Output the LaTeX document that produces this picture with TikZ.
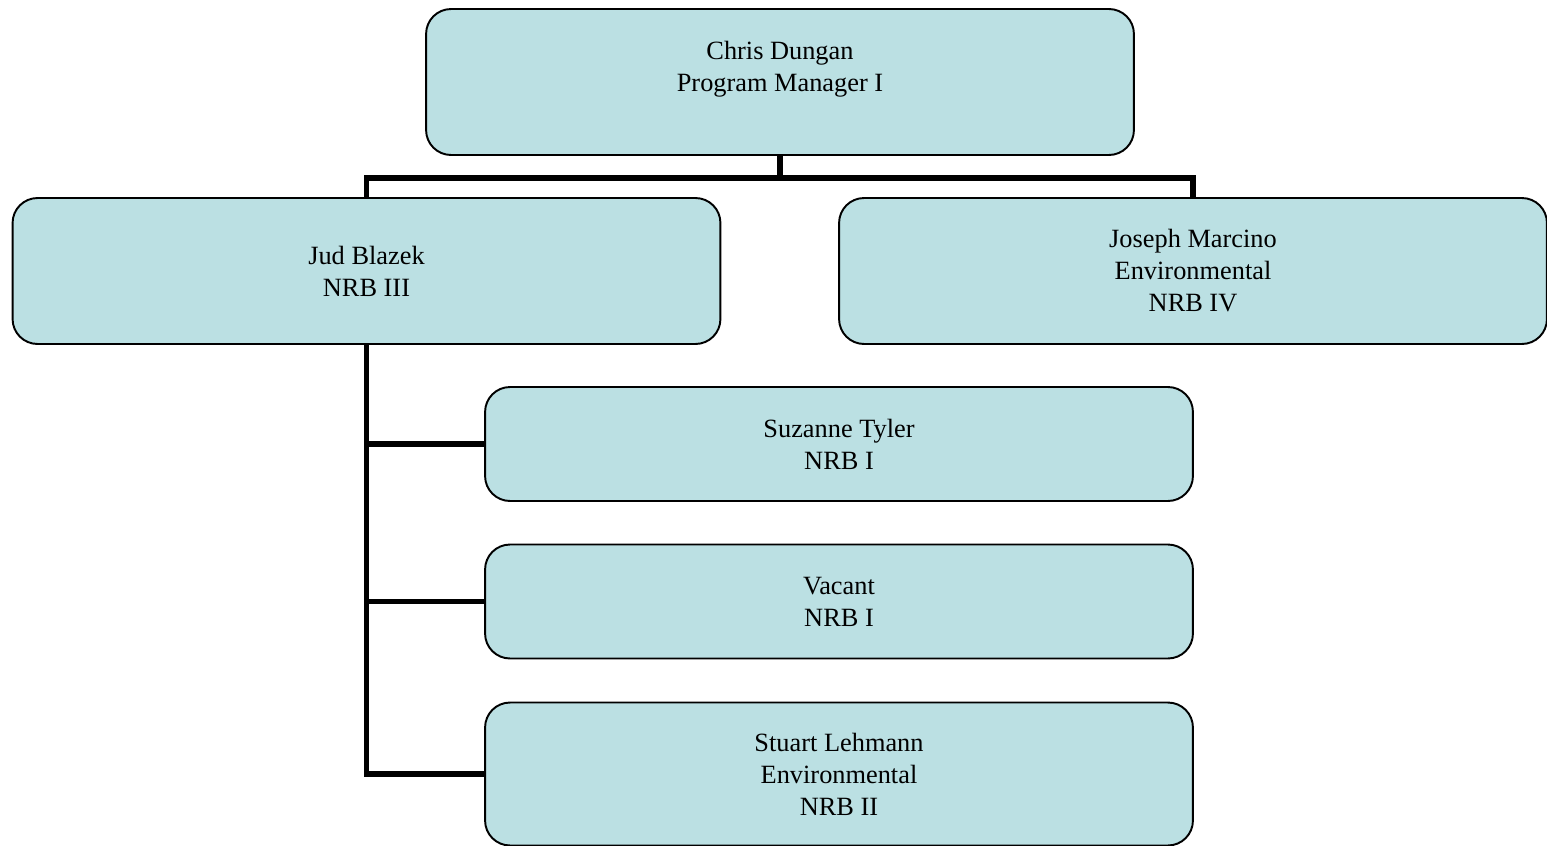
\documentclass[tikz,border=0pt]{standalone}
\usepackage{fontspec}
\setmainfont{Liberation Serif}
\usepackage{xcolor}
\usepackage{tikz}
\usetikzlibrary{positioning}
\definecolor{boxfill}{RGB}{187,224,227}
\tikzset{box/.style={rectangle,rounded corners=0.5cm,draw,line width=1.1pt,fill=boxfill,minimum width=14.16cm,minimum height=2.92cm,align=center,inner sep=0pt,font=\fontsize{15}{18.2}\selectfont}}
\tikzset{conn/.style={line width=2.9pt}}

\begin{document}
\begin{tikzpicture}[x=0.02cm,y=-0.02cm]
        \useasboundingbox (0,0) rectangle (1547,845);
        \node[box] (cd) at (780,82) {Chris Dungan\\Program Manager I\\[-6pt]\strut};
        \node[box] (jb) at (366.5,271) {Jud Blazek\\NRB III};
        \node[box] (jm) at (1193,271) {Joseph Marcino\\Environmental\\NRB IV};
        \node[box,minimum height=2.28cm] (st) at (839,444) {Suzanne Tyler\\NRB I};
        \node[box,minimum height=2.28cm] (vac) at (839,601.5) {Vacant\\NRB I};
        \node[box,minimum height=2.86cm] (sl) at (839,774) {Stuart Lehmann\\Environmental\\NRB II};

        \draw [conn] (cd.south) -- ++(0,22) -| (jb.north);
        \draw [conn] (cd.south) -- ++(0,22) -| (jm.north);
        \draw [conn] (jb.south) |- (st.west);
        \draw [conn] (jb.south) |- (vac.west);
        \draw [conn] (jb.south) |- (sl.west);
    \end{tikzpicture}
\end{document}
